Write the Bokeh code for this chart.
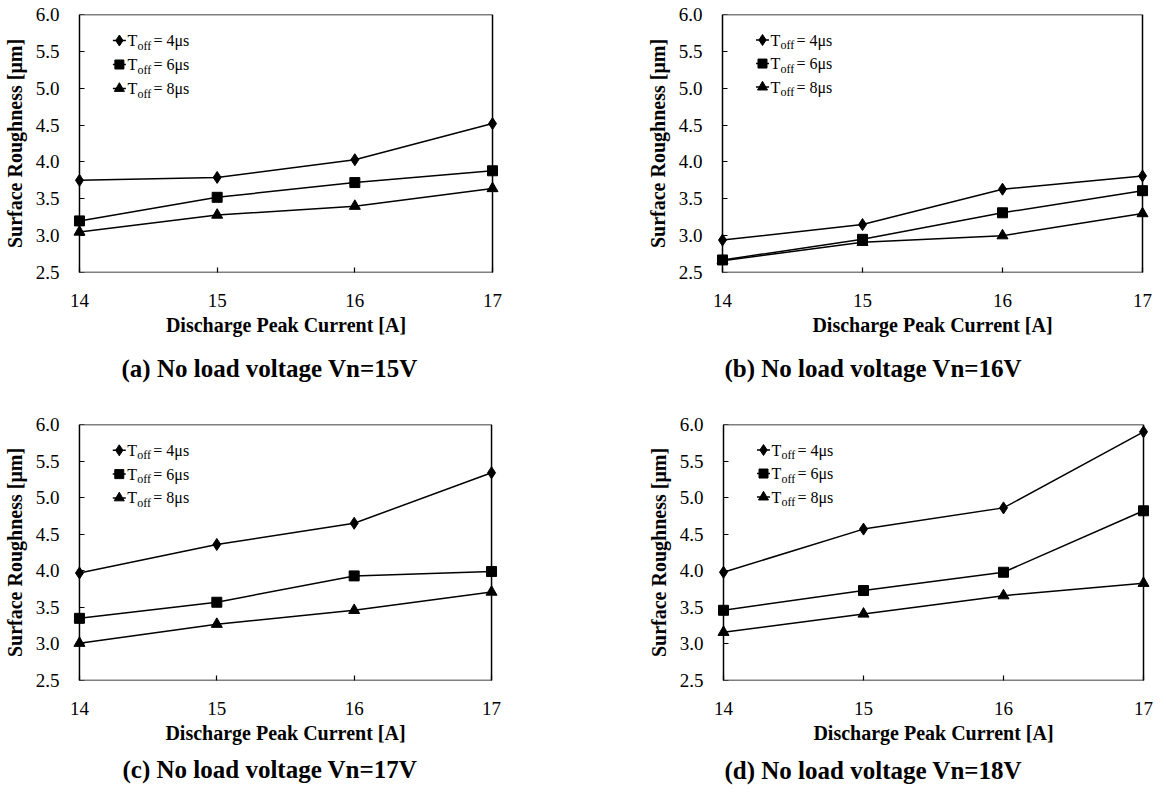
from bokeh.plotting import figure
from bokeh.models import (Range1d, FixedTicker, NumeralTickFormatter, Title, BoxAnnotation,
                          LinearAxis, CustomJSTickFormatter)
from bokeh.layouts import column, row
from bokeh.core.properties import value
from bokeh.embed import file_html
from bokeh.resources import INLINE

current = [14, 15, 16, 17]
x_ticks = [14, 15, 16, 17]
y_ticks = [2.5, 3.0, 3.5, 4.0, 4.5, 5.0, 5.5, 6.0]
series_labels = ["4μs", "6μs", "8μs"]

a_toff4 = [3.75, 3.79, 4.03, 4.52]
a_toff6 = [3.20, 3.52, 3.72, 3.88]
a_toff8 = [3.05, 3.28, 3.40, 3.64]

b_toff4 = [2.94, 3.15, 3.63, 3.81]
b_toff6 = [2.67, 2.95, 3.31, 3.61]
b_toff8 = [2.66, 2.91, 3.00, 3.30]

c_toff4 = [3.97, 4.36, 4.65, 5.34]
c_toff6 = [3.35, 3.57, 3.93, 3.99]
c_toff8 = [3.01, 3.27, 3.46, 3.71]

d_toff4 = [3.98, 4.57, 4.86, 5.90]
d_toff6 = [3.46, 3.73, 3.98, 4.82]
d_toff8 = [3.16, 3.41, 3.66, 3.83]

captions = ["(a) No load voltage Vn=15V", "(b) No load voltage Vn=16V",
            "(c) No load voltage Vn=17V", "(d) No load voltage Vn=18V"]

X0, X1 = 14, 17
Y0, Y1 = 2.5, 6.0
FONT = "Liberation Serif"
markers = ["diamond", "square", "triangle"]
msizes = [12, 10, 11]
PAD = 8  # px of free space left/right of the box so edge markers are not clipped


def make_panel(caption, series, width, height, bl, bt, fw, fh, cap_offset, cap_standoff):
    dx = (X1 - X0) / fw
    dy = (Y1 - Y0) / fh
    p = figure(width=width, height=height,
               x_range=Range1d(X0 - PAD * dx, X1 + PAD * dx),
               y_range=Range1d(Y0, Y1),
               output_backend="svg", toolbar_location=None,
               min_border_left=bl - PAD, min_border_top=bt,
               min_border_right=width - bl - fw - PAD,
               min_border_bottom=height - bt - fh)
    p.background_fill_color = "white"
    p.border_fill_color = "white"
    p.outline_line_color = None
    p.xgrid.visible = False
    p.ygrid.visible = False

    # tick-only y axis sitting on the box edge (x = 14)
    yt = p.yaxis[0]
    yt.fixed_location = X0
    yt.ticker = FixedTicker(ticks=y_ticks)
    yt.formatter = CustomJSTickFormatter(code="return ''")
    yt.major_label_standoff = 0
    yt.axis_label = None

    # labelled y axis at the frame edge (no tick marks)
    yl = LinearAxis(ticker=FixedTicker(ticks=y_ticks),
                    formatter=NumeralTickFormatter(format="0.0"),
                    axis_label="Surface Roughness [μm]")
    p.add_layout(yl, "left")

    for ax in (p.xaxis[0], yt, yl):
        ax.axis_line_color = None
        ax.major_tick_in = 5
        ax.major_tick_out = 0
        ax.minor_tick_in = 0
        ax.minor_tick_out = 0
        ax.major_tick_line_color = "black"
        ax.major_tick_line_width = 1.2
        ax.major_label_text_font = FONT
        ax.major_label_text_font_size = "19px"
        ax.major_label_text_color = "black"
        ax.axis_label_text_font = FONT
        ax.axis_label_text_font_style = "bold"
        ax.axis_label_text_font_size = "20px"
        ax.axis_label_text_color = "black"
    yl.major_tick_line_color = None
    yl.major_tick_in = 0
    yl.major_label_standoff = 20 - PAD
    yl.axis_label_standoff = 7

    p.xaxis.ticker = FixedTicker(ticks=x_ticks)
    p.xaxis.axis_label = "Discharge Peak Current [A]"
    p.xaxis.major_label_standoff = 21
    p.xaxis.axis_label_standoff = 4

    box = BoxAnnotation(left=X0, right=X1, bottom=Y0, top=Y1,
                        fill_color=None, line_color="black", line_alpha=1.0,
                        line_width=1.5)
    p.add_layout(box)

    for vals, mk, ms in zip(series, markers, msizes):
        p.line(current, vals, line_color="black", line_width=1.5)
        p.scatter(current, vals, marker=mk, size=ms, fill_color="black",
                  line_color="black")

    # hand-made legend with subscript
    mx = X0 + 40 * dx
    for i, (lab, mk, ms) in enumerate(zip(series_labels, markers, msizes)):
        my = Y1 - (26 + 24 * i) * dy
        p.scatter([mx], [my], marker="dash", size=13, line_color="black",
                  line_width=1.5)
        p.scatter([mx], [my], marker=mk, size=ms - 1, fill_color="black",
                  line_color="black")
        p.text([mx], [my], text=["T"], x_offset=8, text_baseline="middle",
               text_align="left", text_font=value(FONT), text_font_size="16px",
               text_color="black")
        p.text([mx], [my], text=["off"], x_offset=18, y_offset=5,
               text_baseline="middle", text_align="left",
               text_font=value(FONT), text_font_size="12px", text_color="black")
        p.text([mx], [my], text=["= " + lab], x_offset=34,
               text_baseline="middle", text_align="left",
               text_font=value(FONT), text_font_size="16px", text_color="black")

    t = Title(text=caption, align="left", offset=cap_offset, text_font=FONT,
              text_font_size="25px", text_font_style="bold",
              text_color="black", standoff=cap_standoff)
    p.add_layout(t, "below")
    return p


pa = make_panel(captions[0], [a_toff4, a_toff6, a_toff8], 620, 396, 78, 14, 414, 258, 50, 28)
pb = make_panel(captions[1], [b_toff4, b_toff6, b_toff8], 546, 396, 722 - 620, 9, 420, 263, 10, 28)
pc = make_panel(captions[2], [c_toff4, c_toff6, c_toff8], 620, 397, 77, 28, 414, 258, 51, 14)
pd = make_panel(captions[3], [d_toff4, d_toff6, d_toff8], 546, 397, 723 - 620, 23, 420, 261, 9, 17)

layout = column(row(pa, pb), row(pc, pd))
open("out.html", "w").write(file_html(layout, INLINE))
